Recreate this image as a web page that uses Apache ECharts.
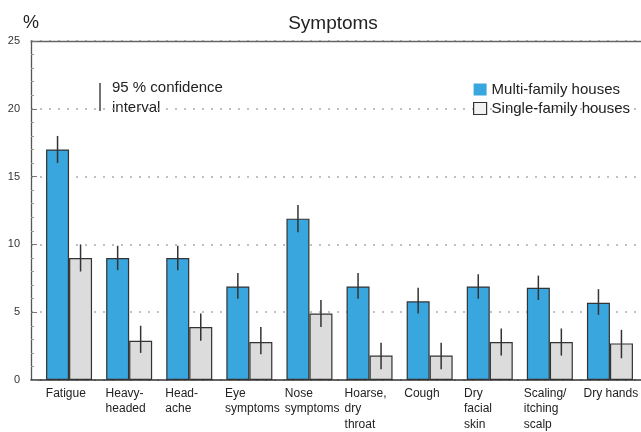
<!DOCTYPE html>
<html>
<head>
<meta charset="utf-8">
<script src="https://cdn.jsdelivr.net/npm/echarts@6/dist/echarts.min.js"></script>
<style>html,body{margin:0;padding:0;background:#fff;}#c{width:641px;height:432px;}</style>
</head>
<body>
<div id="c"></div>
<script>
const categories = ['Fatigue','Heavy-\nheaded','Head-\nache','Eye\nsymptoms','Nose\nsymptoms','Hoarse,\ndry\nthroat','Cough','Dry\nfacial\nskin','Scaling/\nitching\nscalp','Dry hands'];
const multiValues = [17, 9, 9, 6.9, 11.9, 6.9, 5.8, 6.9, 6.8, 5.7];
const multiLow    = [16, 8.1, 8.1, 6.0, 10.9, 6.0, 4.9, 6.0, 5.9, 4.8];
const multiHigh   = [18, 9.9, 9.9, 7.9, 12.9, 7.9, 6.8, 7.8, 7.7, 6.7];
const singleValues = [9, 2.9, 3.9, 2.8, 4.9, 1.8, 1.8, 2.8, 2.8, 2.7];
const singleLow    = [8, 2.0, 2.9, 1.9, 3.9, 0.8, 0.8, 1.8, 1.8, 1.6];
const singleHigh   = [10, 4.0, 4.9, 3.9, 5.9, 2.75, 2.75, 3.8, 3.8, 3.7];
const yMin = 0, yMax = 25, yStep = 5;

const FONT = 'Liberation Sans, Arial, sans-serif';
const BLUE = '#3aa6de';
const GRAY = '#dcdcdc';
const BAR_W = 23;

function errData(low, high){ return categories.map((c,i)=>[i, low[i], high[i]]); }
function errRender(off){
  return function(params, api){
    const a = api.coord([api.value(0), api.value(1)]);
    const b = api.coord([api.value(0), api.value(2)]);
    return {type:'line', shape:{x1:a[0]+off, y1:a[1], x2:a[0]+off, y2:b[1]}, style:{stroke:'#333', lineWidth:1.5}};
  };
}

const chart = echarts.init(document.getElementById('c'), null, {renderer:'canvas'});
chart.setOption({
  animation:false,
  backgroundColor:'#fff',
  textStyle:{fontFamily:FONT},
  title:{text:'Symptoms', left:328, top:9, textAlign:'center', textStyle:{fontFamily:FONT, fontSize:19, fontWeight:'normal', color:'#222'}},
  legend:{
    orient:'vertical', left:468, top:77, itemWidth:13, itemHeight:12, itemGap:4,
    textStyle:{fontFamily:FONT, fontSize:15, color:'#222'},
    data:[
      {name:'Multi-family houses', icon:'rect', itemStyle:{color:BLUE, borderWidth:0}},
      {name:'Single-family houses', icon:'rect', itemStyle:{color:'#f2f2f2', borderColor:'#333', borderWidth:1.2}}
    ]
  },
  graphic:[
    {type:'text', left:23, top:14, style:{text:'%', font:'18px ' + FONT, fill:'#222'}},
    {type:'line', shape:{x1:100, y1:83, x2:100, y2:111}, style:{stroke:'#444', lineWidth:1.5}},
    {type:'text', left:112, top:80, style:{text:'95 % confidence', font:'15px ' + FONT, fill:'#222'}},
    {type:'text', left:112, top:100, style:{text:'interval', font:'15px ' + FONT, fill:'#222'}}
  ],
  grid:[
    {left:31, right:0, top:41, bottom:52},
    {left:39, right:1, top:41, bottom:52},
    {left:16, right:24, top:41, bottom:52}
  ],
  xAxis:[
    {gridIndex:0, type:'value', min:0, max:1, axisLine:{show:true, onZero:false, lineStyle:{color:'#333', width:1.5}}, axisTick:{show:false}, axisLabel:{show:false}, splitLine:{show:false}},
    {gridIndex:1, type:'category', data:categories, axisLine:{show:false}, axisTick:{show:false}, axisLabel:{show:false}},
    {gridIndex:2, type:'category', data:categories, axisLine:{show:false}, axisTick:{show:false},
      axisLabel:{show:true, interval:0, align:'left', margin:7, fontFamily:FONT, fontSize:12, lineHeight:15.5, color:'#222', verticalAlign:'top'}},
    {gridIndex:0, type:'value', position:'top', min:0, max:1, axisLine:{show:true, onZero:false, lineStyle:{color:'#666', width:1.3}}, axisTick:{show:false}, axisLabel:{show:false}, splitLine:{show:false}}
  ],
  yAxis:[
    {gridIndex:0, type:'value', min:yMin, max:yMax, interval:yStep,
      axisLine:{show:true, lineStyle:{color:'#555', width:1.3}},
      axisTick:{show:true, inside:true, length:6, lineStyle:{color:'#777'}},
      minorTick:{show:true, splitNumber:5, length:3, lineStyle:{color:'#999'}},
      axisLabel:{fontFamily:FONT, fontSize:11, color:'#333', margin:11},
      splitLine:{show:true, lineStyle:{color:'#aaa', type:[2,7], width:1.5}}},
    {gridIndex:1, type:'value', min:yMin, max:yMax, interval:yStep, show:false, splitLine:{show:false}},
    {gridIndex:2, type:'value', min:yMin, max:yMax, interval:yStep, show:false, splitLine:{show:false}}
  ],
  series:[
    {name:'Multi-family houses', type:'bar', xAxisIndex:1, yAxisIndex:1, data:multiValues, barWidth:BAR_W, barGap:'0%',
      itemStyle:{color:BLUE, borderColor:'#333', borderWidth:1.2}},
    {name:'Single-family houses', type:'bar', xAxisIndex:1, yAxisIndex:1, data:singleValues, barWidth:BAR_W, barGap:'0%',
      itemStyle:{color:GRAY, borderColor:'#333', borderWidth:1.2}},
    {name:'mErr', type:'custom', xAxisIndex:1, yAxisIndex:1, data:errData(multiLow, multiHigh), encode:{x:0, y:[1,2]}, renderItem:errRender(-BAR_W/2), z:5, silent:true},
    {name:'sErr', type:'custom', xAxisIndex:1, yAxisIndex:1, data:errData(singleLow, singleHigh), encode:{x:0, y:[1,2]}, renderItem:errRender(BAR_W/2), z:5, silent:true}
  ]
});
</script>
</body>
</html>
